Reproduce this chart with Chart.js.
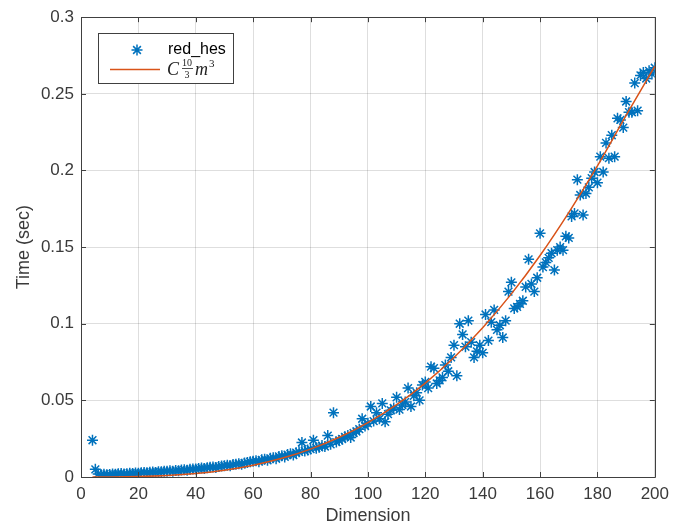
<!DOCTYPE html>
<html>
<head>
<meta charset="utf-8">
<script src="https://cdn.jsdelivr.net/npm/chart.js@4"></script>
<style>
  html, body { margin: 0; padding: 0; background: #fff; }
  #wrap { width: 676px; height: 531px; }
</style>
</head>
<body>
<div id="wrap"><canvas id="timingChart"></canvas></div>
<script>
// measured run times (red_hes), one per dimension
const dims = [
  4, 5, 6, 7, 8, 9,
  10, 11, 12, 13, 14, 15, 16, 17, 18, 19,
  20, 21, 22, 23, 24, 25, 26, 27, 28, 29,
  30, 31, 32, 33, 34, 35, 36, 37, 38, 39,
  40, 41, 42, 43, 44, 45, 46, 47, 48, 49,
  50, 51, 52, 53, 54, 55, 56, 57, 58, 59,
  60, 61, 62, 63, 64, 65, 66, 67, 68, 69,
  70, 71, 72, 73, 74, 75, 76, 77, 78, 79,
  80, 81, 82, 83, 84, 85, 86, 87, 88, 89,
  90, 91, 92, 93, 94, 95, 96, 97, 98, 99,
  100, 101, 102, 103, 104, 105, 106, 107, 108, 109,
  110, 111, 112, 113, 114, 115, 116, 117, 118, 119,
  120, 121, 122, 123, 124, 125, 126, 127, 128, 129,
  130, 131, 132, 133, 134, 135, 136, 137, 138, 139,
  140, 141, 142, 143, 144, 145, 146, 147, 148, 149,
  150, 151, 152, 153, 154, 155, 156, 157, 158, 159,
  160, 161, 162, 163, 164, 165, 166, 167, 168, 169,
  170, 171, 172, 173, 174, 175, 176, 177, 178, 179,
  180, 181, 182, 183, 184, 185, 186, 187, 188, 189,
  190, 191, 192, 193, 194, 195, 196, 197, 198, 199,
  200
];
const times = [
  0.024, 0.005, 0.002, 0.0015, 0.0018, 0.0015,
  0.0017, 0.002, 0.0018, 0.0021, 0.0023, 0.002, 0.0022, 0.0025, 0.0023, 0.0026,
  0.0025, 0.0027, 0.003, 0.0028, 0.0031, 0.0033, 0.003, 0.0035, 0.0034, 0.0037,
  0.0038, 0.004, 0.0037, 0.0043, 0.0041, 0.0045, 0.0047, 0.0044, 0.005, 0.0052,
  0.0053, 0.0055, 0.0058, 0.0056, 0.0061, 0.0063, 0.0065, 0.0062, 0.0069, 0.0071,
  0.0073, 0.0077, 0.0074, 0.0081, 0.0084, 0.0087, 0.0083, 0.0091, 0.0095, 0.0099,
  0.0102, 0.0106, 0.01, 0.0112, 0.0116, 0.0109, 0.0122, 0.0126, 0.0119, 0.0134,
  0.0138, 0.0131, 0.0146, 0.0151, 0.0143, 0.0159, 0.0164, 0.0225, 0.0169, 0.0176,
  0.0182, 0.024, 0.0188, 0.0194, 0.0205, 0.0199, 0.027, 0.0213, 0.042, 0.0228,
  0.0238, 0.0248, 0.0262, 0.027, 0.0258, 0.0287, 0.0297, 0.0312, 0.038, 0.0333,
  0.035, 0.046, 0.0365, 0.042, 0.038, 0.048, 0.036, 0.041, 0.0435, 0.045,
  0.052, 0.044, 0.047, 0.049, 0.058, 0.046, 0.053, 0.055, 0.05, 0.06,
  0.062, 0.058, 0.072, 0.071, 0.061, 0.063, 0.065, 0.073, 0.069, 0.078,
  0.086, 0.066, 0.1, 0.093, 0.085, 0.102, 0.088, 0.078, 0.082, 0.086,
  0.081, 0.106, 0.089, 0.101, 0.109, 0.096, 0.099, 0.091, 0.102, 0.121,
  0.127, 0.11, 0.111, 0.113, 0.115, 0.124, 0.142, 0.126, 0.121, 0.13,
  0.159, 0.137, 0.14, 0.143, 0.146, 0.135, 0.148, 0.15, 0.148, 0.157,
  0.156, 0.17, 0.172, 0.194, 0.184, 0.171, 0.185, 0.189, 0.195, 0.199,
  0.192, 0.209, 0.199, 0.218, 0.208, 0.223, 0.209, 0.234, 0.233, 0.228,
  0.245, 0.238, 0.238, 0.257, 0.239, 0.262, 0.264, 0.26, 0.265, 0.263,
  0.267
];

// fitted C*m^3 curve
const fitDims = [4, 10, 20, 30, 40, 50, 60, 70, 80, 90, 100, 110, 120, 130, 140, 150, 160, 170, 180, 190, 200];
const fitTimes = [0, 0.00004, 0.0003, 0.001, 0.0023, 0.0044, 0.0077, 0.0122, 0.0182, 0.0259, 0.0355,
  0.0472, 0.0613, 0.078, 0.0974, 0.1195, 0.1445, 0.1725, 0.203, 0.236, 0.268];

const xTicks = [0, 20, 40, 60, 80, 100, 120, 140, 160, 180, 200];
const yTicks = [0, 0.05, 0.1, 0.15, 0.2, 0.25, 0.3];

const BLUE = '#0072BD';
const ORANGE = '#D95319';
const AXIS = '#404040';
const TEXT = '#3a3a3a';

const ctx = document.getElementById('timingChart');

// matlab style box, inward ticks and legend
const matlabFrame = {
  id: 'matlabFrame',
  afterDraw(chart) {
    const c = chart.ctx;
    const a = chart.chartArea;
    const xs = chart.scales.x, ys = chart.scales.y;
    c.save();
    c.strokeStyle = AXIS;
    c.lineWidth = 1;
    c.beginPath();
    c.rect(Math.round(a.left) + 0.5, Math.round(a.top) + 0.5,
      Math.round(a.right - a.left), Math.round(a.bottom - a.top));
    c.stroke();
    c.beginPath();
    xTicks.forEach(v => {
      const px = Math.round(xs.getPixelForValue(v)) + 0.5;
      c.moveTo(px, a.bottom); c.lineTo(px, a.bottom - 5);
      c.moveTo(px, a.top); c.lineTo(px, a.top + 5);
    });
    yTicks.forEach(v => {
      const py = Math.round(ys.getPixelForValue(v)) + 0.5;
      c.moveTo(a.left, py); c.lineTo(a.left + 5, py);
      c.moveTo(a.right, py); c.lineTo(a.right - 5, py);
    });
    c.stroke();

    // legend
    c.fillStyle = '#fff';
    c.fillRect(98, 33, 135, 50);
    c.strokeStyle = AXIS;
    c.strokeRect(98.5, 33.5, 135, 50);

    // asterisk sample
    c.strokeStyle = BLUE;
    c.lineWidth = 1.5;
    const sx = 137, sy = 50, r = 5.5;
    c.beginPath();
    for (let k = 0; k < 4; k++) {
      const ang = k * Math.PI / 4;
      c.moveTo(sx - Math.cos(ang) * r, sy - Math.sin(ang) * r);
      c.lineTo(sx + Math.cos(ang) * r, sy + Math.sin(ang) * r);
    }
    c.stroke();
    c.fillStyle = '#000';
    c.font = '16px "Liberation Sans", Arial, sans-serif';
    c.textBaseline = 'middle';
    c.textAlign = 'left';
    c.fillText('red_hes', 168, 50);

    // line sample
    c.strokeStyle = ORANGE;
    c.lineWidth = 1.5;
    c.beginPath();
    c.moveTo(110, 69.5); c.lineTo(160, 69.5);
    c.stroke();

    // C (10/3) m^3
    c.fillStyle = '#222';
    c.textBaseline = 'alphabetic';
    c.font = 'italic 18px "Liberation Serif", "Times New Roman", serif';
    c.fillText('C', 167, 75);
    c.font = '10px "Liberation Serif", serif';
    c.textAlign = 'center';
    c.fillText('10', 187, 66);
    c.fillText('3', 187, 78);
    c.lineWidth = 0.8;
    c.strokeStyle = '#222';
    c.beginPath();
    c.moveTo(182, 68.5); c.lineTo(193, 68.5);
    c.stroke();
    c.textAlign = 'left';
    c.font = 'italic 18px "Liberation Serif", "Times New Roman", serif';
    c.fillText('m', 195, 75);
    c.font = '11px "Liberation Serif", serif';
    c.fillText('3', 209, 67);
    c.restore();
  }
};

const chart = new Chart(ctx, {
  type: 'scatter',
  data: {
    datasets: [
      {
        type: 'line',
        label: 'C 10/3 m^3',
        data: fitDims.map((d, i) => ({ x: d, y: fitTimes[i] })),
        borderColor: ORANGE,
        backgroundColor: ORANGE,
        borderWidth: 1.5,
        pointRadius: 0,
        cubicInterpolationMode: 'monotone',
        fill: false,
      },
      {
        label: 'red_hes',
        data: dims.map((d, i) => ({ x: d, y: times[i] })),
        pointStyle: 'star',
        pointRadius: 5.5,
        pointHoverRadius: 5.5,
        borderWidth: 1.5,
        borderColor: BLUE,
        backgroundColor: BLUE,
      },
    ],
  },
  options: {
    responsive: true,
    maintainAspectRatio: false,
    animation: false,
    events: [],
    layout: { padding: { top: 17, right: 9, bottom: 0, left: 0 } },
    plugins: {
      legend: { display: false },
      tooltip: { enabled: false },
    },
    scales: {
      x: {
        type: 'linear',
        min: 0,
        max: 200,
        afterFit: s => { s.height = 54; },
        afterBuildTicks: s => { s.ticks = xTicks.map(v => ({ value: v })); },
        grid: { color: 'rgba(0,0,0,0.13)', drawTicks: false },
        border: { display: false },
        ticks: {
          padding: 7,
          color: TEXT,
          font: { family: '"Liberation Sans", Arial, sans-serif', size: 17 },
          callback: v => String(v),
        },
        title: {
          display: true,
          text: 'Dimension',
          color: TEXT,
          font: { family: '"Liberation Sans", Arial, sans-serif', size: 18 },
          padding: { top: 0, bottom: 4 },
        },
      },
      y: {
        type: 'linear',
        min: 0,
        max: 0.3,
        afterFit: s => { s.width = 81; },
        afterBuildTicks: s => { s.ticks = yTicks.map(v => ({ value: v })); },
        grid: { color: 'rgba(0,0,0,0.13)', drawTicks: false },
        border: { display: false },
        ticks: {
          padding: 7,
          color: TEXT,
          font: { family: '"Liberation Sans", Arial, sans-serif', size: 17 },
          callback: v => String(v),
        },
        title: {
          display: true,
          text: 'Time (sec)',
          color: TEXT,
          font: { family: '"Liberation Sans", Arial, sans-serif', size: 18 },
          padding: { top: 13, bottom: 0 },
        },
      },
    },
  },
  plugins: [matlabFrame],
});
</script>
</body>
</html>
